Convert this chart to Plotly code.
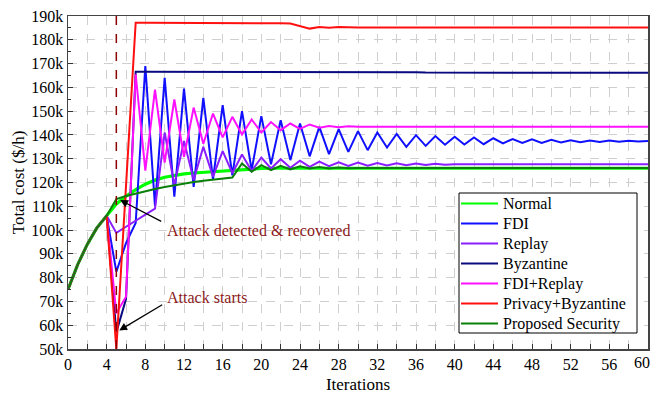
import plotly.graph_objects as go

iters = list(range(0, 61))

normal = [75, 85.5, 94, 101, 106, 111, 114.2, 117, 119.3, 121, 122.2, 123, 123.6, 124, 124.3, 124.6, 124.9, 125.2, 125.5, 125.7, 125.9] + [126.0] * 40

fdi = [75, 85.5, 94, 101, 106, 82.5, 94.5, 103, 169, 110, 164, 114, 159.5, 118.2, 155.6, 121.3, 152.5, 123, 150, 125.2,
       147.9, 127.7, 146.2, 129.4, 144.8, 131, 143.4, 131.9, 142.4, 132.9, 141.6, 133.6, 141, 134.7, 140.4, 135, 139.9, 135.4, 139.5, 135.9,
       139.2, 136, 138.9, 136.1, 138.6, 136.4, 138.3, 136.6, 138.2, 136.6, 138, 136.8, 137.8, 136.9, 137.7, 137.0, 137.7, 137.1, 137.6, 137.2, 137.4]

replay = [75, 85.5, 94, 101, 106, 98.8, 101.4, 104, 106.5, 109, 141, 119, 137.5, 121, 135, 122.5, 133.2, 123.9, 131.8, 124.8,
          130.5, 125.9, 129.8, 126.2, 129.2, 126.6, 128.8, 126.9, 128.5, 127.0, 128.4, 127.1, 128.2, 127.2, 128.1, 127.3, 128.0, 127.4, 127.9, 127.5] + [127.7] * 21

byzantine = [75, 85.5, 94, 101, 106, 57, 71, 166.6, 166.6, 166.6, 166.6, 166.6, 166.5, 166.5, 166.5, 166.5, 166.5, 166.5, 166.5, 166.4,
             166.4, 166.4, 166.4, 166.4, 166.4, 166.4, 166.4, 166.3, 166.3, 166.3, 166.3, 166.3, 166.3, 166.3, 166.3, 166.3, 166.3, 166.2, 166.2, 166.2] + [166.1] * 21

fdi_replay = [75, 85.5, 94, 101, 106, 65, 72, 165.5, 125, 159, 128.4, 154.9, 130.8, 151.5, 136.3, 149, 139, 147.6, 140.2, 146.5,
              141, 145.4, 142, 144.8, 142.5, 144.4, 143, 143.7, 143.2, 143.6] + [143.4] * 31

privacy_byz = [75, 85.5, 94, 101, 106, 50, 118.5, 187.2, 187.2, 187.2, 187.2, 187.1, 187.1, 187.1, 187.1, 187.0, 187.0, 187.0, 187.0, 187.0,
               186.9, 186.9, 186.9, 186.8, 185.8, 184.7, 185.4, 185.1, 185.4, 185.2] + [185.2] * 31

proposed = [75, 85.5, 94, 101, 106, 113, 114.3, 115.4, 116.4, 117.3, 118.1, 118.9, 119.6, 120.2, 120.7, 121.2, 121.7, 122.1, 128, 124.5,
            127.3, 125.2, 127, 125.5, 126.8, 125.9, 126.5, 125.9, 126.3, 126.0] + [126.1] * 31

series_names = ["Normal", "FDI", "Replay", "Byzantine", "FDI+Replay", "Privacy+Byzantine", "Proposed Security"]
series_values = [normal, fdi, replay, byzantine, fdi_replay, privacy_byz, proposed]
series_colors = ["#00ff00", "#1010ff", "#8a1eff", "#0a0a80", "#ff10ff", "#ff1010", "#0a800a"]
series_widths = [3.2, 2, 2, 2, 2, 2, 2]

y_ticks = list(range(50000, 190001, 10000))
y_labels = [f"{v // 1000}k" for v in y_ticks]
x_ticks = list(range(0, 61, 2))
x_labels = [str(v) if (v % 4 == 0 and v < 60) else "" for v in x_ticks]
x_last = 60

attack_iter = 5

FONT = "Liberation Serif"
ANN_COLOR = "#8b1a1a"

fig = go.Figure()
for name, vals, color, w in zip(series_names, series_values, series_colors, series_widths):
    fig.add_trace(go.Scatter(x=iters, y=[v * 1000 for v in vals], mode="lines", name=name,
                             line=dict(color=color, width=w), showlegend=False, hoverinfo="skip"))

fig.add_vline(x=attack_iter, line=dict(color="#8b0000", width=1.5, dash="dash"))

fig.add_annotation(x=5.3, y=57800, ax=9.9, ay=69000, axref="x", ayref="y", xref="x", yref="y",
                   text="", showarrow=True, arrowhead=2, arrowsize=1.2, arrowwidth=1.3, arrowcolor="black")
fig.add_annotation(x=10.0, y=71500, xref="x", yref="y", text="Attack starts", showarrow=False,
                   xanchor="left", yanchor="middle", font=dict(family=FONT, size=16, color=ANN_COLOR))
fig.add_annotation(x=5.4, y=112600, ax=9.8, ay=103300, axref="x", ayref="y", xref="x", yref="y",
                   text="", showarrow=True, arrowhead=2, arrowsize=1.2, arrowwidth=1.3, arrowcolor="black")
fig.add_annotation(x=10.0, y=100000, xref="x", yref="y", text="Attack detected &amp; recovered", showarrow=False,
                   xanchor="left", yanchor="middle", font=dict(family=FONT, size=16, color=ANN_COLOR))

# last x tick label (would be hidden by plotly at the figure edge)
fig.add_annotation(x=x_last, y=0, xref="x", yref="paper", text=str(x_last), showarrow=False,
                   xanchor="right", yanchor="top", xshift=4, yshift=-3, font=dict(family=FONT, size=16, color="black"))

# manual legend (plot-area paper coordinates)
PW, PH = 580.0, 333.0
def px_x(p):
    return (p - 68) / PW
def px_y(p):
    return (349 - p) / PH

fig.add_shape(type="rect", xref="paper", yref="paper", x0=px_x(459), x1=px_x(637), y0=px_y(333), y1=px_y(193),
              line=dict(color="black", width=1), fillcolor="white", layer="above")
for i, (name, color) in enumerate(zip(series_names, series_colors)):
    yy = px_y(203.5 + 20 * i)
    fig.add_shape(type="line", xref="paper", yref="paper", x0=px_x(461), x1=px_x(498), y0=yy, y1=yy,
                  line=dict(color=color, width=2), layer="above")
    fig.add_annotation(xref="paper", yref="paper", x=px_x(501), y=yy, text=name, showarrow=False,
                       xanchor="left", yanchor="middle", font=dict(family=FONT, size=16, color="black"))

axis_common = dict(showline=True, linecolor="#444", linewidth=1.5, mirror=True,
                   showgrid=True, gridcolor="#cfcfcf", griddash="dash", gridwidth=1,
                   ticks="inside", ticklen=5, tickcolor="#333", zeroline=False, automargin=False,
                   tickfont=dict(family=FONT, size=16, color="black"))

fig.update_xaxes(range=[0, 60], tickvals=x_ticks, ticktext=x_labels,
                 title=dict(text="Iterations", font=dict(family=FONT, size=17, color="black")),
                 **axis_common)
fig.update_yaxes(range=[50000, 190000], tickvals=y_ticks, ticktext=y_labels,
                 title=dict(text="Total cost ($/h)", font=dict(family=FONT, size=17, color="black"), standoff=2),
                 minor=dict(ticks="inside", ticklen=3, dtick=5000, tickcolor="#333", showgrid=False),
                 **axis_common)

fig.update_layout(
    width=654, height=394,
    margin=dict(l=68, r=6, t=16, b=45, autoexpand=False),
    plot_bgcolor="white", paper_bgcolor="white",
    showlegend=False,
)

fig.write_html("out.html", config={"displayModeBar": False, "staticPlot": True})

with open("out.html", "r", encoding="utf-8") as f:
    html = f.read()
css = ("<style>html,body{margin:0;padding:0;width:654px;height:394px;overflow:hidden;}"
       ".plotly-graph-div{position:absolute;top:0;left:0;}</style>")
html = html.replace("<head>", "<head>" + css, 1)
with open("out.html", "w", encoding="utf-8") as f:
    f.write(html)
